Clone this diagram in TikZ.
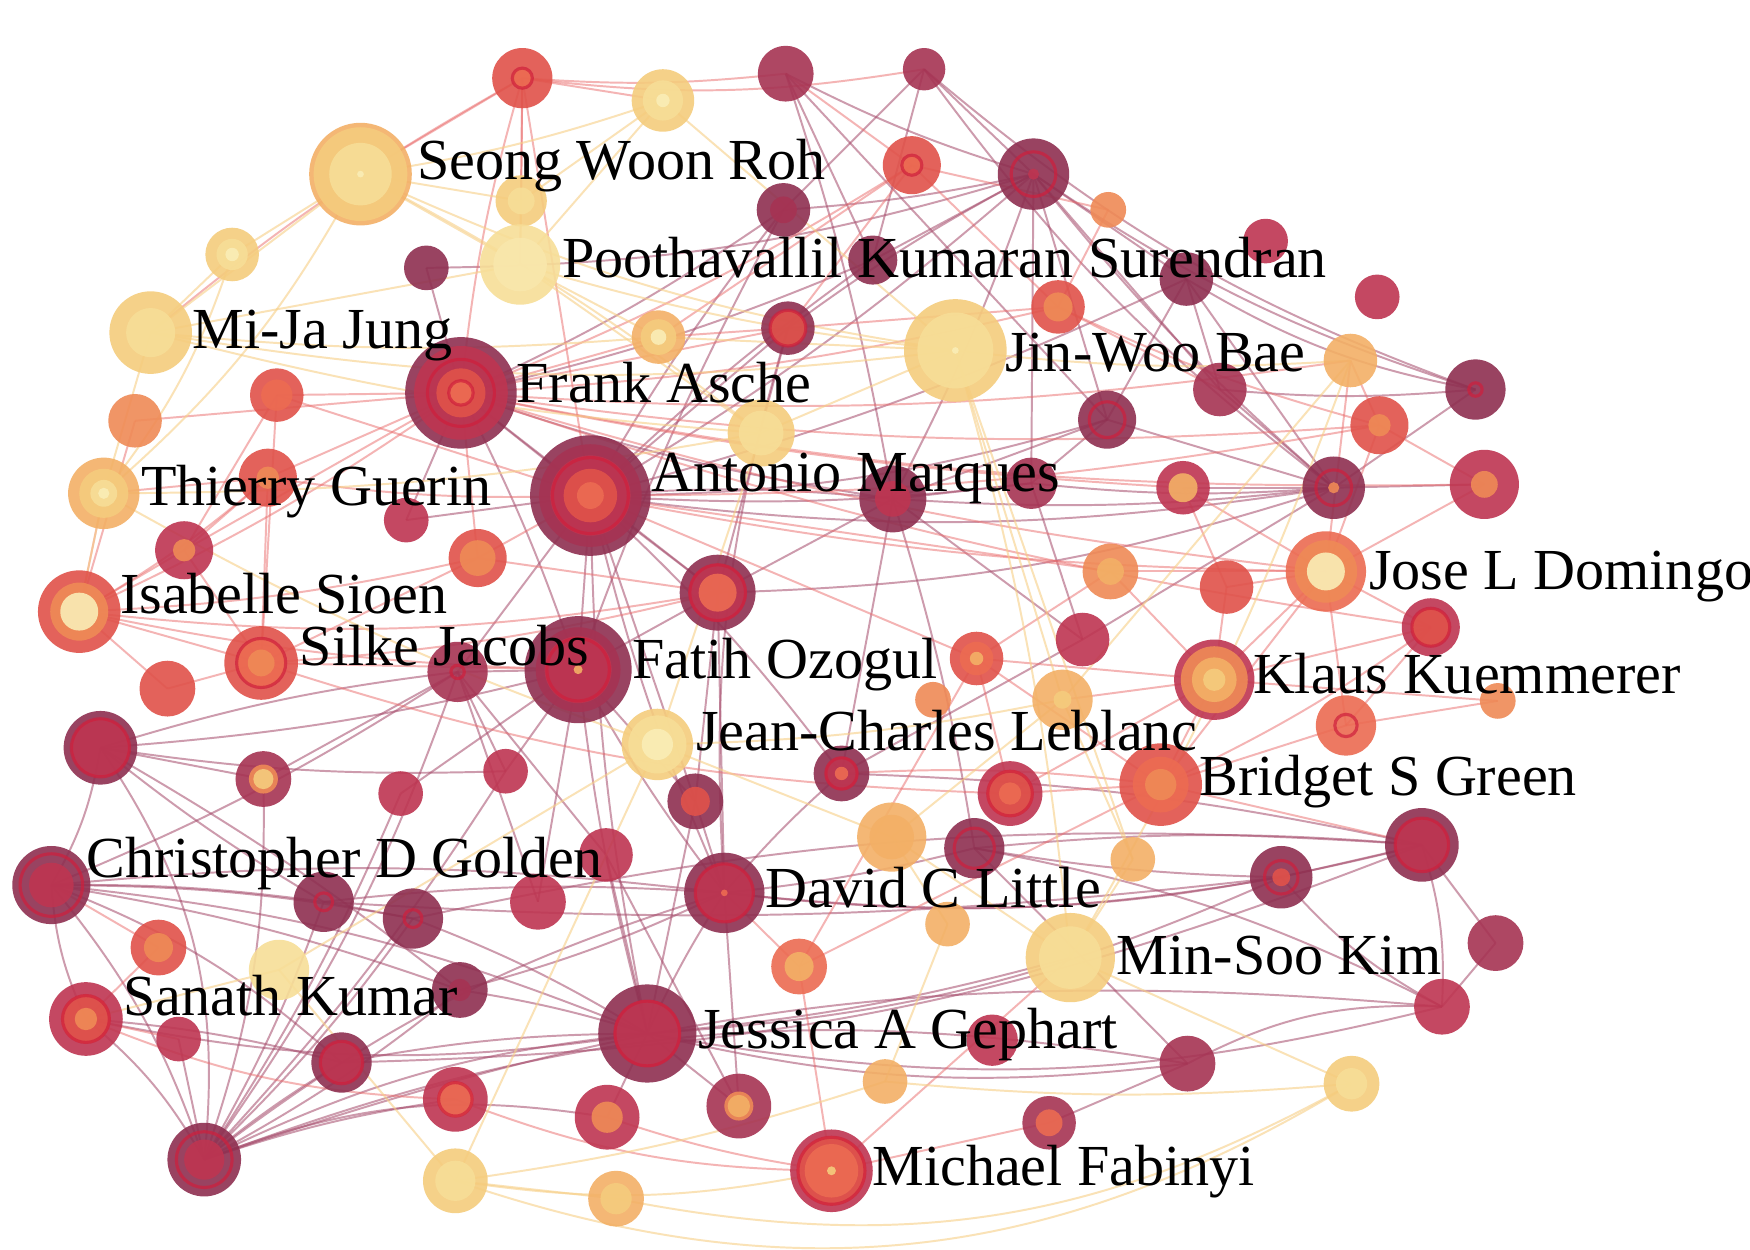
\documentclass[tikz,border=0pt]{standalone}
\usepackage{fontspec}
\setmainfont{Liberation Serif}
\usepackage{xcolor}

\definecolor{cDk}{HTML}{8E2F50}
\definecolor{cMr}{HTML}{A63353}
\definecolor{cCr}{HTML}{BE3551}
\definecolor{cRd}{HTML}{E0524A}
\definecolor{cRo}{HTML}{EC6B52}
\definecolor{cOr}{HTML}{EF8A56}
\definecolor{cLo}{HTML}{F3B066}
\definecolor{cYe}{HTML}{F5CC7D}
\definecolor{cYp}{HTML}{F7DE97}
\definecolor{cYq}{HTML}{F9E7AC}
\definecolor{cYw}{HTML}{FAEDB6}
\definecolor{cLn}{HTML}{CF1F3C}
\definecolor{eM}{HTML}{A54A6A}
\definecolor{eR}{HTML}{EA6A6A}
\definecolor{eY}{HTML}{F7CF86}

\pgfdeclarelayer{edges}
\pgfsetlayers{edges,main}

\tikzset{
  fDk/.style={fill=cDk, fill opacity=0.9},
  fMr/.style={fill=cMr, fill opacity=0.9},
  fCr/.style={fill=cCr, fill opacity=0.9},
  fRd/.style={fill=cRd, fill opacity=0.9},
  fRo/.style={fill=cRo, fill opacity=0.9},
  fOr/.style={fill=cOr, fill opacity=0.9},
  fLo/.style={fill=cLo, fill opacity=0.9},
  fYe/.style={fill=cYe, fill opacity=0.9},
  fYp/.style={fill=cYp, fill opacity=0.9},
  fYq/.style={fill=cYq, fill opacity=0.9},
  fYw/.style={fill=cYw, fill opacity=0.9},
  rLn/.style={draw=cLn, line width=0.8pt, draw opacity=0.7},
  edM/.style={draw=eM, line width=0.5pt, draw opacity=0.55},
  edR/.style={draw=eR, line width=0.5pt, draw opacity=0.5},
  edY/.style={draw=eY, line width=0.5pt, draw opacity=0.6},
  lab/.style={anchor=base west, inner sep=0pt, font=\fontsize{14.8}{17}\selectfont}
}

% author bubble: name, centre, list of radius/style rings
\newcommand{\bub}[3]{%
  \coordinate (#1) at (#2);
  \foreach \r/\s in {#3} {\path[\s] (#1) circle (\r);}}

\begin{document}
\begin{tikzpicture}[x=0.01cm, y=-0.01cm]
  \useasboundingbox (0,0) rectangle (1568,1120);

  % Authors
  \bub{n1}{468,70}{27/fRd, 9/fRo, 9/rLn}
  \bub{n2}{594,90}{28/fYe, 18/fYp, 6/fYw}
  \bub{n3}{704,66}{25/fMr}
  \bub{n4}{828,62}{19/fMr}
  \bub{roh}{323,156}{46/fLo, 42/fYe, 28/fYp, 3/fYw}
  \bub{n6}{467,180}{23/fYe, 12/fYp}
  \bub{n7}{817,148}{26/fRd, 9/fRo, 9/rLn}
  \bub{n8}{926,156}{32/fDk, 20/rLn, 5/fCr}
  \bub{n9}{993,188}{16/fOr}
  \bub{n10}{208,228}{24/fYe, 14/fYp, 6/fYw}
  \bub{n11}{382,240}{20/fDk}
  \bub{surendran}{466,237}{36/fYp, 24/fYq}
  \bub{n13}{702,188}{24/fDk, 12/fMr}
  \bub{n14}{782,233}{22/fDk}
  \bub{n15}{1134,216}{20/fCr}
  \bub{n16}{1063,250}{24/fDk}
  \bub{n17}{948,275}{24/fRd, 13/fOr}
  \bub{n18}{1234,266}{20/fCr}
  \bub{jung}{135,298}{37/fYe, 22/fYp}
  \bub{n20}{590,302}{24/fLo, 16/fYe, 7/fYw}
  \bub{n21}{706,294}{24/fDk, 16/fRd, 16/rLn}
  \bub{bae}{856,314}{46/fYe, 34/fYp, 3/fYw}
  \bub{n23}{1210,323}{24/fLo}
  \bub{n24}{1322,349}{27/fDk, 6/rLn}
  \bub{n25}{248,354}{24/fRd, 14/fRo}
  \bub{asche}{413,352}{50/fDk, 42/fCr, 30/rLn, 22/fRd, 11/fRo, 11/rLn}
  \bub{n27}{121,377}{24/fOr}
  \bub{n28}{682,388}{30/fYe, 20/fYp}
  \bub{n29}{992,376}{26/fDk, 16/rLn}
  \bub{n30}{1093,349}{24/fMr}
  \bub{n31}{1236,381}{26/fRd, 10/fOr}
  \bub{guerin}{93,442}{32/fLo, 22/fYe, 12/fYp, 5/fYw}
  \bub{n33}{240,428}{26/fRd, 10/fOr}
  \bub{marques}{529,444}{54/fDk, 46/fMr, 36/fCr, 34/rLn, 24/fRd, 12/fRo}
  \bub{n35}{364,466}{20/fCr}
  \bub{n36}{800,447}{30/fDk, 16/fCr}
  \bub{n37}{924,433}{23/fMr}
  \bub{n38}{1060,437}{24/fCr, 13/fLo}
  \bub{n39}{1195,437}{28/fDk, 16/rLn, 5/fOr}
  \bub{n40}{1330,434}{31/fCr, 12/fOr}
  \bub{n41}{165,493}{26/fCr, 10/fOr}
  \bub{n42}{428,500}{26/fRd, 16/fOr}
  \bub{sioen}{71,548}{37/fRd, 26/fOr, 17/fYw}
  \bub{n44}{643,531}{34/fDk, 26/fCr, 25/rLn, 17/fRo}
  \bub{n45}{995,512}{25/fOr, 12/fLo}
  \bub{n46}{1099,526}{24/fRd}
  \bub{domingo}{1188,512}{36/fRo, 28/fOr, 17/fYw}
  \bub{n48}{1282,562}{26/fCr, 17/fRd, 17/rLn}
  \bub{jacobs}{234,594}{33/fRd, 22/fRo, 22/rLn, 12/fOr}
  \bub{n50}{410,602}{27/fMr, 6/rLn}
  \bub{ozogul}{518,600}{48/fDk, 38/fMr, 30/fCr, 28/rLn, 4/fLo}
  \bub{n52}{970,573}{24/fCr}
  \bub{n53}{875,590}{24/fRd, 15/fRo, 6/fLo}
  \bub{n54}{150,617}{25/fRd}
  \bub{n55}{836,627}{16/fOr}
  \bub{n56}{952,627}{27/fLo, 8/fYe}
  \bub{kuemmerer}{1088,609}{36/fCr, 30/fOr, 20/fLo, 10/fYe}
  \bub{n58}{1206,650}{27/fRo, 10/rLn}
  \bub{n59}{1342,628}{16/fOr}
  \bub{n60}{90,670}{33/fDk, 26/fCr, 26/rLn}
  \bub{leblanc}{589,667}{32/fYe, 26/fYp, 14/fYw}
  \bub{n62}{236,698}{25/fMr, 13/fOr, 9/fYe}
  \bub{n63}{453,691}{20/fCr}
  \bub{n64}{754,693}{25/fDk, 15/fCr, 14/rLn, 6/fRo}
  \bub{n65}{359,711}{20/fCr}
  \bub{n66}{623,718}{25/fDk, 13/fRd}
  \bub{n67}{905,711}{29/fCr, 21/fRd, 20/rLn, 10/fRo}
  \bub{green}{1040,703}{37/fRd, 25/fRo, 14/fOr}
  \bub{n69}{799,750}{31/fLo, 20/fLo}
  \bub{n70}{873,760}{27/fDk, 18/rLn}
  \bub{n71}{1015,770}{20/fLo}
  \bub{n72}{1274,757}{33/fDk, 24/fCr, 24/rLn}
  \bub{n73}{543,766}{24/fCr}
  \bub{golden}{46,793}{35/fDk, 28/rLn, 20/fCr}
  \bub{n75}{290,808}{27/fDk, 8/rLn}
  \bub{n76}{370,823}{27/fDk, 8/rLn}
  \bub{n77}{482,808}{25/fCr}
  \bub{little}{649,800}{36/fDk, 26/fCr, 26/rLn, 3/fRo}
  \bub{n79}{849,828}{20/fLo}
  \bub{n80}{1148,786}{28/fDk, 15/rLn, 8/fRd}
  \bub{n81}{142,849}{25/fRd, 13/fOr}
  \bub{n82}{250,869}{27/fYp}
  \bub{n83}{412,887}{25/fDk, 10/fMr}
  \bub{n84}{716,866}{25/fRo, 13/fLo}
  \bub{kim}{959,858}{40/fYe, 28/fYp}
  \bub{n86}{1340,845}{25/fMr}
  \bub{kumar}{77,913}{33/fCr, 22/fRd, 21/rLn, 10/fOr}
  \bub{n88}{160,931}{20/fCr}
  \bub{gephart}{580,926}{44/fDk, 30/fCr, 29/rLn}
  \bub{n90}{306,952}{27/fDk, 19/fCr, 19/rLn}
  \bub{n91}{889,932}{23/fCr}
  \bub{n92}{1292,902}{25/fCr}
  \bub{n93}{408,985}{29/fCr, 16/fRo, 15/rLn}
  \bub{n94}{544,1001}{29/fCr, 14/fOr}
  \bub{n95}{662,991}{29/fMr, 13/fOr, 10/fLo}
  \bub{n96}{793,969}{20/fLo}
  \bub{n97}{1064,953}{25/fMr}
  \bub{n98}{1211,971}{25/fYe, 14/fYp}
  \bub{n99}{940,1006}{24/fMr, 12/fRo}
  \bub{n100}{183,1039}{33/fDk, 25/rLn, 18/fCr}
  \bub{fabinyi}{745,1049}{37/fCr, 31/fRd, 30/rLn, 24/fRo, 4/fYe}
  \bub{n102}{408,1058}{29/fYe, 18/fYp}
  \bub{n103}{552,1074}{25/fLo, 14/fYe}

  % Co-authorship links
  \begin{pgfonlayer}{edges}
  \fill[white] (0,0) rectangle (1568,1120);
  \foreach \a/\b/\k in {golden/n100/10, golden/n60/-10, golden/n75/4, golden/n76/5, golden/gephart/8,
      golden/little/6, golden/n83/5, golden/n90/10, golden/kumar/-10, golden/n50/-5,
      n60/n100/20, n60/n75/-4, n60/n83/4, n60/ozogul/-5, n60/n62/0, n60/n50/5, n60/n63/-5,
      n100/n75/-5, n100/n76/-5, n100/n83/-5, n100/n90/4, n100/n93/5, n100/gephart/10, n100/little/10,
      n100/n94/15, n100/n63/-5, n100/n50/-8, n100/n65/-5, n100/n97/15, n100/n92/12, n100/kumar/-10,
      n100/n62/-10, n100/n88/0, kumar/gephart/-10, kumar/n90/5,
      n75/n76/0, n75/little/5, n75/n80/-5, n76/gephart/5, n76/n72/8, n83/gephart/4, n83/little/-5,
      n90/gephart/5, n90/n72/-10, gephart/little/4, gephart/n95/0, gephart/n94/0, gephart/n73/0,
      gephart/marques/5, gephart/ozogul/4, gephart/n80/-10, gephart/n92/-12, gephart/kim/-5,
      gephart/n66/0, gephart/n97/-10, little/n66/0, little/n64/4, little/n70/-4, little/n80/-8,
      little/n72/-10, little/ozogul/4, little/marques/5, little/n44/0, little/n21/10, little/n95/0,
      n80/n72/0, n80/n70/4, n80/n92/-10, n72/n86/0, n72/n92/10, n92/n86/0, n92/n97/-15, n92/n70/-8,
      n72/n70/-5, n72/n64/-5, marques/asche/0, marques/ozogul/0, marques/n44/0, marques/n36/5,
      marques/n13/4, marques/n21/0, marques/n50/0, marques/n35/0, marques/n29/-8, marques/n39/-8,
      marques/n8/-5, marques/n37/-5, marques/n14/4, marques/n16/-5, marques/n66/0, marques/n64/5,
      asche/ozogul/4, asche/n44/0, asche/n13/-5, asche/n11/0, asche/n35/0, asche/n36/-5, asche/n14/-5,
      n8/n13/4, n8/n14/0, n8/n16/0, n8/n29/0, n8/n21/-4, n8/n3/5, n8/n4/0, n8/n39/-5, n8/n36/4,
      n8/n37/0, n8/n30/0, n8/n24/-8, n8/n11/8, n4/n14/0, n4/n13/0, n4/n24/-10, n4/n39/-8,
      n3/n14/0, n3/n36/4, n3/n29/0, n39/n24/0, n39/n29/0, n39/n30/0, n39/n16/0, n39/n40/0,
      n39/n36/5, n39/n37/5, n39/n38/0, n39/n52/0, n39/n44/8, n36/n37/0, n36/n29/0, n36/n44/0,
      n36/n52/0, n36/n64/0, n36/n70/4, n50/ozogul/0, n50/n62/0, n50/n63/0, n50/n73/0, n50/n77/0,
      ozogul/n44/0, ozogul/n63/0, ozogul/n66/0, ozogul/n65/0, ozogul/n77/0, ozogul/n13/4,
      n16/n30/0, n16/n29/0, n24/n30/5, n24/n16/10, n37/n29/0, n37/n52/0, n70/n97/0, n99/n97/0,
      n95/n73/0, n66/n44/0, n64/n52/0, n44/n21/0}
    \draw[edM] (\a) to[bend left=\k] (\b);
  \foreach \a/\b/\k in {n1/roh/0, n1/surendran/0, n1/asche/-5, n1/n2/0, n1/n3/-5, n1/marques/0,
      n1/jung/-5, n1/n6/0, n1/n4/-8, asche/n25/0, asche/n33/0, asche/n41/0, asche/n42/0,
      asche/n17/-5, asche/n21/0, asche/n20/0, asche/n7/-5, asche/n31/-6, asche/domingo/-5,
      asche/n38/-4, asche/n40/-6, asche/sioen/5, asche/n27/0, asche/n23/-6, asche/n48/-5,
      marques/n25/0, marques/n42/0, marques/n33/5, marques/domingo/-5, marques/n31/-5,
      marques/n45/0, marques/n53/0, domingo/n31/0, domingo/n48/0, domingo/n46/0, domingo/n38/0,
      domingo/kuemmerer/0, domingo/n40/0, domingo/n58/0, domingo/n45/0, domingo/green/0,
      domingo/n23/0, n48/kuemmerer/0, n48/n58/0, n48/green/5, kuemmerer/green/0, kuemmerer/n53/0,
      kuemmerer/n56/0, kuemmerer/n45/0, kuemmerer/n59/0, kuemmerer/n67/0, kuemmerer/n46/0,
      green/n67/0, green/n53/0, green/n58/0, green/n84/0, green/n64/-5, green/n72/0,
      sioen/n41/0, sioen/guerin/0, sioen/n33/-5, sioen/jacobs/0, sioen/n54/0, sioen/n27/0,
      sioen/ozogul/-5, sioen/n44/-8, sioen/n42/-5, jacobs/n42/0, jacobs/n54/0, jacobs/n41/0,
      jacobs/n33/0, jacobs/n25/0, jacobs/ozogul/0, jacobs/n44/-5, jacobs/n67/-8,
      n7/n17/0, n7/n9/0, n7/n21/0, n7/n20/0, n7/n3/0, n17/n31/-5, n17/n9/0, n17/n21/0, n17/n30/0,
      fabinyi/n84/0, fabinyi/n99/0, fabinyi/n94/5, fabinyi/kim/0, fabinyi/n93/10,
      n81/golden/0, n81/kumar/0, kumar/n88/0, kumar/n93/-10, n84/little/0, n84/n53/0, n67/n53/0,
      n25/n41/0, n33/n41/0, n42/n44/0, n58/n59/0, n46/n38/0, n45/n53/0, n21/n20/0, guerin/n33/0,
      n31/n40/0, n31/n23/0}
    \draw[edR] (\a) to[bend left=\k] (\b);
  \foreach \a/\b/\k in {roh/n10/0, roh/n6/0, roh/surendran/0, roh/jung/0, roh/n2/-5, roh/bae/-8,
      roh/n28/5, roh/guerin/10, jung/n10/0, jung/guerin/0, jung/surendran/0, jung/n20/-5,
      jung/n28/-5, jung/bae/-8, surendran/n6/0, surendran/n2/0, surendran/n20/0, surendran/n28/0,
      surendran/bae/-5, bae/n20/0, bae/n28/0, bae/n23/-5, bae/n56/0, bae/n71/0, bae/kim/5,
      n2/n6/0, n2/bae/0, n10/guerin/10, guerin/n28/-5, guerin/sioen/0, guerin/leblanc/-5,
      leblanc/n69/0, leblanc/n56/-5, leblanc/n28/0, leblanc/n82/0, leblanc/n102/0,
      n82/n102/0, n82/kumar/0, n102/n103/0, n102/n96/-5, n103/n98/-20, n96/n98/-5, n98/kim/0,
      kim/n69/0, kim/n71/0, n71/n56/0, n79/n69/0, n79/n96/0, n69/n56/0, n23/n56/0, n23/kim/5,
      n102/fabinyi/-10, n102/n98/-25}
    \draw[edY] (\a) to[bend left=\k] (\b);
  \end{pgfonlayer}

  % Labels
  \node[lab] (lroh) at (373,161) {Seong Woon Roh};
  \node[lab] (lsurendran) at (503,249) {Poothavallil Kumaran Surendran};
  \node[lab] (ljung) at (172,312) {Mi-Ja Jung};
  \node[lab] (lbae) at (900,333) {Jin-Woo Bae};
  \node[lab] (lasche) at (462,361) {Frank Asche};
  \node[lab] (lmarques) at (583,440) {Antonio Marques};
  \node[lab] (lguerin) at (126,453) {Thierry Guerin};
  \node[lab] (ldomingo) at (1226,528) {Jose L Domingo};
  \node[lab] (lsioen) at (107,550) {Isabelle Sioen};
  \node[lab] (ljacobs) at (268,596) {Silke Jacobs};
  \node[lab] (lozogul) at (566,608) {Fatih Ozogul};
  \node[lab] (lkuemmerer) at (1122,621) {Klaus Kuemmerer};
  \node[lab] (lleblanc) at (623,672) {Jean-Charles Leblanc};
  \node[lab] (lgreen) at (1074,713) {Bridget S Green};
  \node[lab] (lgolden) at (77,786) {Christopher D Golden};
  \node[lab] (llittle) at (685,813) {David C Little};
  \node[lab] (lkim) at (1000,873) {Min-Soo Kim};
  \node[lab] (lkumar) at (110,910) {Sanath Kumar};
  \node[lab] (lgephart) at (625,939) {Jessica A Gephart};
  \node[lab] (lfabinyi) at (781,1062) {Michael Fabinyi};
\end{tikzpicture}
\end{document}
